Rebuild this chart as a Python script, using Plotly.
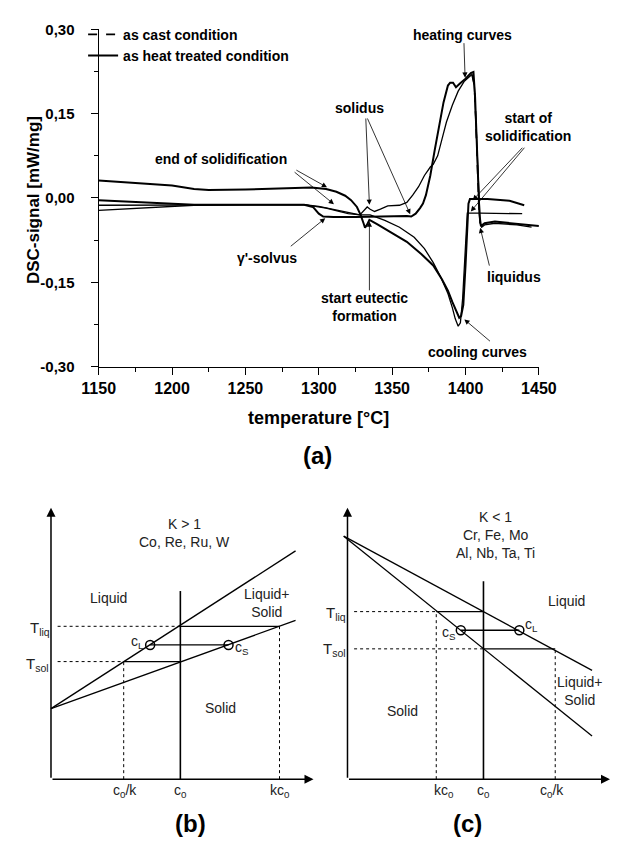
import plotly.graph_objects as go

# ---------------- Panel (a): DSC curves ----------------
# heating curve, heat treated (steep riser, with gamma' solvus dip)
HB_T = [1150, 1180, 1215, 1260, 1290, 1296, 1300, 1303, 1310, 1325, 1340, 1355, 1360, 1363,
        1366, 1369, 1371, 1373, 1376, 1379, 1382, 1385, 1388, 1389.5, 1391.5, 1393.5, 1396,
        1400, 1403.6, 1405.4, 1406.5, 1407.5, 1408.5, 1409.5, 1410.5, 1413, 1420, 1430, 1440, 1450]
HB_S = [-0.004, -0.008, -0.012, -0.012, -0.012, -0.016, -0.028, -0.033, -0.034, -0.034, -0.033,
        -0.033, -0.032, -0.033, -0.028, -0.018, -0.010, 0.005, 0.040, 0.085, 0.130, 0.170, 0.200,
        0.205, 0.205, 0.197, 0.203, 0.212, 0.222, 0.224, 0.180, 0.100, 0.030, -0.030, -0.050,
        -0.045, -0.042, -0.045, -0.048, -0.050]
# heating curve (early riser)
HA_T = [1150, 1180, 1215, 1260, 1290, 1305, 1320, 1328, 1331, 1333, 1335, 1338, 1342, 1347,
        1355, 1360, 1364, 1368, 1372, 1376, 1378, 1381, 1384, 1387, 1391, 1395, 1399, 1402,
        1404.5, 1406, 1407, 1408, 1409, 1410, 1411, 1413, 1420, 1435, 1445]
HA_S = [-0.013, -0.013, -0.012, -0.012, -0.012, -0.018, -0.028, -0.030, -0.022, -0.016, -0.020,
        -0.024, -0.020, -0.014, -0.013, -0.008, 0.005, 0.020, 0.040, 0.055, 0.060, 0.075, 0.105,
        0.135, 0.165, 0.190, 0.207, 0.215, 0.220, 0.200, 0.140, 0.060, -0.010, -0.045, -0.052,
        -0.048, -0.045, -0.048, -0.052]
# cooling curve 1 (with start of eutectic formation dip)
C1_T = [1150, 1170, 1200, 1215, 1225, 1250, 1275, 1295, 1305, 1312, 1318, 1322, 1326, 1328.5,
        1330.5, 1331.5, 1333, 1334.5, 1340, 1350, 1360, 1370, 1378, 1384, 1388, 1391, 1394,
        1395.7, 1397, 1398.5, 1400, 1401, 1402, 1403, 1415, 1430, 1440]
C1_S = [0.031, 0.027, 0.022, 0.016, 0.014, 0.015, 0.017, 0.0185, 0.016, 0.011, 0.004, -0.004,
        -0.016, -0.030, -0.045, -0.053, -0.047, -0.039, -0.047, -0.062, -0.078, -0.100, -0.120,
        -0.145, -0.165, -0.185, -0.205, -0.213, -0.210, -0.190, -0.120, -0.050, -0.010, -0.002,
        -0.002, -0.005, -0.013]
# cooling curve 2
C2_T = [1150, 1180, 1215, 1250, 1290, 1300, 1310, 1320, 1328, 1335, 1345, 1355, 1365, 1372,
        1378, 1383, 1388, 1391, 1393, 1395, 1396.5, 1398, 1399.5, 1400.5, 1401.2, 1410, 1425, 1438.6]
C2_S = [-0.022, -0.018, -0.013, -0.012, -0.012, -0.015, -0.020, -0.026, -0.030, -0.030, -0.040,
        -0.052, -0.070, -0.090, -0.115, -0.140, -0.170, -0.195, -0.215, -0.228, -0.222, -0.180,
        -0.100, -0.045, -0.027, -0.027, -0.027, -0.028]
# as cast condition (visible dashed falling edge)
AC_T = [1404.5, 1406, 1407, 1408, 1409, 1410]
AC_S = [0.218, 0.200, 0.140, 0.060, -0.010, -0.045]

X_TICKS = [1150, 1200, 1250, 1300, 1350, 1400, 1450]
Y_TICKS = [-0.30, -0.15, 0.00, 0.15, 0.30]
Y_TICKTEXT = ["-0,30", "-0,15", "0,00", "0,15", "0,30"]

# labels: text, text position (T, S)
A_LABELS = [("heating curves", 1397.9, 0.289), ("solidus", 1327.6, 0.160),
            ("start of<br>solidification", 1442.7, 0.127),
            ("end of solidification", 1233.5, 0.0697), ("γ'-solvus", 1264.4, -0.107),
            ("start eutectic<br>formation", 1331.4, -0.194), ("liquidus", 1433.2, -0.141),
            ("cooling curves", 1408.2, -0.274)]
# arrows: tail (T,S) -> head (T,S)
A_ARROWS = [(1398.9, 0.278, 1399.7, 0.214), (1332.0, 0.144, 1334.5, -0.012),
            (1332.7, 0.144, 1362.3, -0.029), (1439.7, 0.092, 1404.9, -0.004),
            (1441.0, 0.092, 1403.6, -0.024), (1283.7, 0.051, 1305.6, 0.019),
            (1282.5, 0.048, 1310.3, -0.011), (1279.9, -0.088, 1304.4, -0.036),
            (1334.5, -0.167, 1334.5, -0.042), (1416.5, -0.123, 1410.0, -0.053),
            (1417.7, -0.257, 1399.2, -0.216)]

# ---------------- Panels (b), (c): schematic phase diagrams ----------------
AX_U = 278
AX_V = 277
# panel b (K > 1)
B_LIQ_U = [0, 259]; B_LIQ_V = [72, 233]
B_SOL_U = [0, 259]; B_SOL_V = [72, 162]
B_C0 = 137; B_C0_TOP = 192
B_TLIQ = 156; B_TSOL = 120
B_C0K = 77; B_KC0 = 242
B_TIE = 137; B_CL = 105; B_CS = 188
# panel c (K < 1)
C_LIQ_U = [-4, 259]; C_LIQ_V = [248, 111]
C_SOL_U = [-4, 259]; C_SOL_V = [248, 44]
C_C0 = 144; C_C0_TOP = 202
C_TLIQ = 171; C_TSOL = 133
C_KC0 = 94; C_C0K = 220
C_TIE = 152; C_CS = 120; C_CL = 182
DOT_START = 7

B_TEXT = [("K > 1", 141, 260, 14), ("Co, Re, Ru, W", 141, 242, 14), ("Liquid", 61, 185, 14),
          ("Liquid+<br>Solid", 229, 180, 14), ("Solid", 180, 73, 14),
          ("T<sub>liq</sub>", -12, 154, 15), ("T<sub>sol</sub>", -14, 117, 15),
          ("c<sub>L</sub>", 92, 140, 14), ("c<sub>S</sub>", 202, 134, 14),
          ("c<sub>0</sub>/k", 78, -12, 14), ("c<sub>0</sub>", 137, -12, 14),
          ("kc<sub>0</sub>", 243, -12, 14)]
C_TEXT = [("K < 1", 157, 268, 14), ("Cr, Fe, Mo", 157, 249, 14), ("Al, Nb, Ta, Ti", 157, 231, 14),
          ("Liquid", 232, 182, 14), ("Liquid+<br>Solid", 246, 90, 14), ("Solid", 58, 70, 14),
          ("T<sub>liq</sub>", -12, 169, 15), ("T<sub>sol</sub>", -14, 132, 15),
          ("c<sub>S</sub>", 108, 149, 14), ("c<sub>L</sub>", 195, 157, 14),
          ("kc<sub>0</sub>", 102, -12, 14), ("c<sub>0</sub>", 144, -12, 14),
          ("c<sub>0</sub>/k", 217, -12, 14)]

FONT = "Liberation Sans, Arial, sans-serif"
fig = go.Figure()

# ---- panel a traces
thick = dict(color="black", width=2.0)
thin = dict(color="black", width=1.3)
fig.add_trace(go.Scatter(x=AC_T, y=AC_S, mode="lines", name="as cast condition",
                         line=dict(color="black", width=1.6, dash="dash"), legendrank=1))
fig.add_trace(go.Scatter(x=HB_T, y=HB_S, mode="lines", name="as heat treated condition",
                         line=thick, legendrank=2))
fig.add_trace(go.Scatter(x=HA_T, y=HA_S, mode="lines", line=thin, showlegend=False))
fig.add_trace(go.Scatter(x=C1_T, y=C1_S, mode="lines", line=thick, showlegend=False))
fig.add_trace(go.Scatter(x=C2_T, y=C2_S, mode="lines", line=thin, showlegend=False))

ann = []
for txt, tx, ty in A_LABELS:
    ann.append(dict(x=tx, y=ty, xref="x", yref="y", text=txt, showarrow=False,
                    font=dict(family=FONT, size=14, color="black", weight="bold")))
for t0, s0, t1, s1 in A_ARROWS:
    ann.append(dict(x=t1, y=s1, ax=t0, ay=s0, xref="x", yref="y", axref="x", ayref="y",
                    text="", showarrow=True, arrowhead=2, arrowsize=1.3, arrowwidth=0.8,
                    arrowcolor="black"))

# ---- schematic panels
def seg(xs, ys, xa, ya, dash=None, width=1.3):
    fig.add_trace(go.Scatter(x=xs, y=ys, mode="lines", xaxis=xa, yaxis=ya, showlegend=False,
                             line=dict(color="black", width=width, dash=dash), hoverinfo="skip"))

# panel b
xa, ya = "x2", "y2"
seg(B_LIQ_U, B_LIQ_V, xa, ya)
seg(B_SOL_U, B_SOL_V, xa, ya)
seg([B_C0, B_C0], [0, B_C0_TOP], xa, ya, width=1.6)
seg([DOT_START, B_C0], [B_TLIQ, B_TLIQ], xa, ya, dash="dot", width=1)
seg([B_C0, B_KC0], [B_TLIQ, B_TLIQ], xa, ya)
seg([B_KC0, B_KC0], [0, B_TLIQ], xa, ya, dash="dot", width=1)
seg([DOT_START, B_C0K], [B_TSOL, B_TSOL], xa, ya, dash="dot", width=1)
seg([B_C0K, B_C0], [B_TSOL, B_TSOL], xa, ya)
seg([B_C0K, B_C0K], [0, B_TSOL], xa, ya, dash="dot", width=1)
seg([B_CL, B_CS], [B_TIE, B_TIE], xa, ya)
fig.add_trace(go.Scatter(x=[B_CL, B_CS], y=[B_TIE, B_TIE], mode="markers", xaxis=xa, yaxis=ya,
                         showlegend=False, marker=dict(symbol="circle-open", size=9,
                                                       color="black", line=dict(width=1.5))))
# panel c
xa, ya = "x3", "y3"
seg(C_LIQ_U, C_LIQ_V, xa, ya)
seg(C_SOL_U, C_SOL_V, xa, ya)
seg([C_C0, C_C0], [0, C_C0_TOP], xa, ya, width=1.6)
seg([DOT_START, C_KC0], [C_TLIQ, C_TLIQ], xa, ya, dash="dot", width=1)
seg([C_KC0, C_C0], [C_TLIQ, C_TLIQ], xa, ya)
seg([C_KC0, C_KC0], [0, C_TLIQ], xa, ya, dash="dot", width=1)
seg([DOT_START, C_C0], [C_TSOL, C_TSOL], xa, ya, dash="dot", width=1)
seg([C_C0, C_C0K], [C_TSOL, C_TSOL], xa, ya)
seg([C_C0K, C_C0K], [0, C_TSOL], xa, ya, dash="dot", width=1)
seg([C_CS, C_CL], [C_TIE, C_TIE], xa, ya)
fig.add_trace(go.Scatter(x=[C_CS, C_CL], y=[C_TIE, C_TIE], mode="markers", xaxis=xa, yaxis=ya,
                         showlegend=False, marker=dict(symbol="circle-open", size=9,
                                                       color="black", line=dict(width=1.5))))

for xr, yr, texts, plabel, px in [("x2", "y2", B_TEXT, "(b)", 148), ("x3", "y3", C_TEXT, "(c)", 127)]:
    # axes with arrow heads
    ann.append(dict(x=AX_U, y=0, ax=0, ay=0, xref=xr, yref=yr, axref=xr, ayref=yr, text="",
                    showarrow=True, arrowhead=2, arrowsize=1.2, arrowwidth=1.5, arrowcolor="black"))
    ann.append(dict(x=0, y=AX_V, ax=0, ay=0, xref=xr, yref=yr, axref=xr, ayref=yr, text="",
                    showarrow=True, arrowhead=2, arrowsize=1.2, arrowwidth=1.5, arrowcolor="black"))
    for txt, u, v, fs in texts:
        ann.append(dict(x=u, y=v, xref=xr, yref=yr, text=txt, showarrow=False,
                        font=dict(family=FONT, size=fs, color="#222")))
    ann.append(dict(x=px, y=-45, xref=xr, yref=yr, text=plabel, showarrow=False,
                    font=dict(family=FONT, size=24, color="black", weight="bold")))

# panel a axis titles and label
ann.append(dict(x=319 / 628, y=1 - 417 / 844, xref="paper", yref="paper", text="temperature [°C]",
                xanchor="center", yanchor="middle", showarrow=False,
                font=dict(family=FONT, size=18, color="black", weight="bold")))
ann.append(dict(x=17 / 628, y=1 - 195 / 844, xref="paper", yref="paper", text="DSC-signal [mW/mg]",
                xanchor="center", yanchor="middle", textangle=-90, showarrow=False,
                font=dict(family=FONT, size=17, color="black", weight="bold")))
ann.append(dict(x=318 / 628, y=1 - 456 / 844, xref="paper", yref="paper", text="(a)",
                xanchor="center", yanchor="middle", showarrow=False,
                font=dict(family=FONT, size=24, color="black", weight="bold")))

axis_common = dict(showline=True, linecolor="black", linewidth=1.3, ticks="outside",
                   tickcolor="black", tickwidth=1.3, ticklen=7, showgrid=False, zeroline=False)
fig.update_layout(
    width=628, height=844, margin=dict(l=0, r=0, t=0, b=0),
    plot_bgcolor="white", paper_bgcolor="white",
    xaxis=dict(domain=[86.5 / 628, 552.7 / 628], range=[1150, 1450], tickmode="array",
               tickvals=X_TICKS, ticktext=[str(v) for v in X_TICKS], anchor="y",
               tickfont=dict(family=FONT, size=16, color="black", weight="bold"),
               minor=dict(ticks="outside", ticklen=4, tickwidth=1.3, tickcolor="black",
                          tick0=1150, dtick=25, showgrid=False), **axis_common),
    yaxis=dict(domain=[1 - 365 / 844, 1 - 20.7 / 844], range=[-0.3, 0.3], tickmode="array",
               tickvals=Y_TICKS, ticktext=Y_TICKTEXT, anchor="x", ticklabelstandoff=13,
               tickfont=dict(family=FONT, size=15, color="black", weight="bold"),
               minor=dict(ticks="outside", ticklen=4, tickwidth=1.3, tickcolor="black",
                          tick0=-0.3, dtick=0.075, showgrid=False), **axis_common),
    xaxis2=dict(domain=[0, 0.5], range=[-36, 278], visible=False, anchor="y2"),
    yaxis2=dict(domain=[0, 424 / 844], range=[-58, 366], visible=False, anchor="x2"),
    xaxis3=dict(domain=[0.5, 1], range=[-36, 278], visible=False, anchor="y3"),
    yaxis3=dict(domain=[0, 424 / 844], range=[-58, 366], visible=False, anchor="x3"),
    legend=dict(x=70 / 628, y=1 - 10 / 844, xanchor="left", yanchor="top",
                bgcolor="rgba(0,0,0,0)", borderwidth=0, tracegroupgap=0,
                font=dict(family=FONT, size=14, color="black", weight="bold")),
    annotations=ann,
    showlegend=True,
)

fig.write_html("out.html")
